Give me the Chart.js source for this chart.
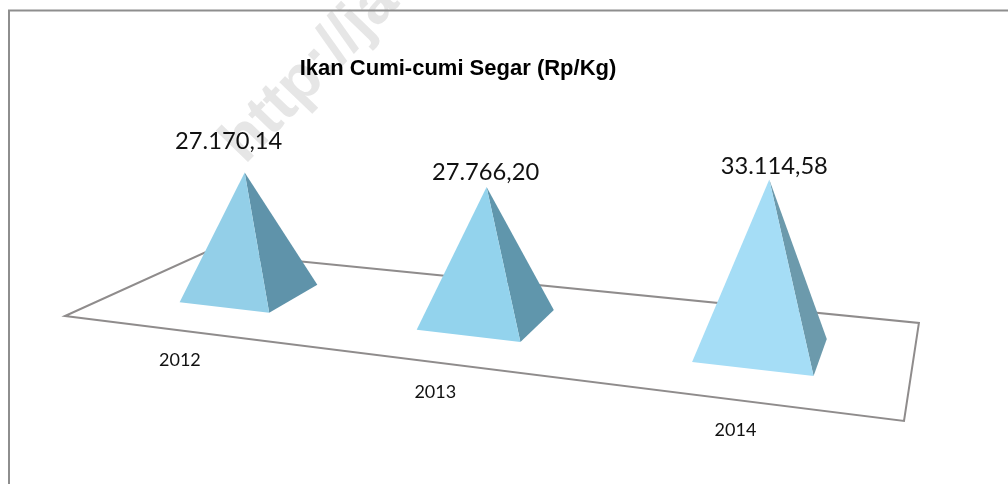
<!DOCTYPE html>
<html>
<head>
<meta charset="utf-8">
<title>Ikan Cumi-cumi Segar</title>
<script src="https://cdn.jsdelivr.net/npm/chart.js@4"></script>
<style>
html, body { margin: 0; padding: 0; background: #fff; }
canvas { display: block; }
</style>
</head>
<body>
<canvas id="chart" width="1008" height="484"></canvas>
<script>
// data
const categories = ['2012', '2013', '2014'];
const hargaIkan = [27170.14, 27766.20, 33114.58];
const judul = 'Ikan Cumi-cumi Segar (Rp/Kg)';
const watermark = 'http://ja';

// warna tiap piramida (sisi depan / sisi kanan)
const warnaDepan = ['#93cfe8', '#93d3ed', '#a5ddf6'];
const warnaSamping = ['#5f93aa', '#6096ac', '#6c9aac'];
// geser label nilai dari puncak piramida
const geserLabel = [[-16, -31], [-1, -15], [5, -13]];

// proyeksi lantai 3D: kotak satuan (u,v) ke kanvas
// sudut lantai: depan-kiri (65,316), depan-kanan (904,421), belakang-kanan (919,323), belakang-kiri (206,252)
function proyeksi(u, v) {
	const w = 1 - 0.2156 * u + 0.1813 * v;
	return {
		x: (644.1 * u + 178.3 * v + 65) / w,
		y: (14.2 * u - 18.3 * v + 316) / w,
		w: w
	};
}

function poligon(ctx, titik) {
	ctx.beginPath();
	titik.forEach((p, i) => i ? ctx.lineTo(p.x, p.y) : ctx.moveTo(p.x, p.y));
	ctx.closePath();
}

function formatNilai(n) {
	const parts = n.toFixed(2).split('.');
	return parts[0].replace(/\B(?=(\d{3})+$)/g, '.') + ',' + parts[1];
}

const piramidaPlugin = {
	id: 'piramida',
	beforeDraw(chart) {
		const ctx = chart.ctx;
		ctx.save();
		ctx.fillStyle = '#fff';
		ctx.fillRect(0, 0, chart.width, chart.height);
		// watermark
		ctx.translate(245, 165);
		ctx.rotate(-46 * Math.PI / 180);
		ctx.fillStyle = '#e6e6e6';
		ctx.font = 'bold 62px "Liberation Sans"';
		ctx.textBaseline = 'alphabetic';
		ctx.fillText(watermark, 0, 0);
		ctx.restore();
		// bingkai: hanya atas dan kiri
		ctx.save();
		ctx.strokeStyle = '#8e8e8e';
		ctx.lineWidth = 2;
		ctx.beginPath();
		ctx.moveTo(chart.width, 10.5);
		ctx.lineTo(9, 10.5);
		ctx.lineTo(9, chart.height);
		ctx.stroke();
		ctx.restore();
	},
	afterDatasetsDraw(chart) {
		const ctx = chart.ctx;
		const area = chart.chartArea;
		const bars = chart.getDatasetMeta(0).data;
		ctx.save();
		// lantai
		ctx.strokeStyle = '#8f8c8c';
		ctx.lineWidth = 2;
		ctx.lineJoin = 'miter';
		poligon(ctx, [proyeksi(0, 0), proyeksi(1, 0), proyeksi(1, 1), proyeksi(0, 1)]);
		ctx.stroke();
		bars.forEach((bar, i) => {
			const u = (bar.x - area.left) / area.width + 0.003;
			const du = bar.width / area.width / 2;
			const v = 0.5, dv = 0.2;
			const pusat = proyeksi(u, v);
			const tinggi = (bar.base - bar.y) / pusat.w;
			// garis vertikal sedikit menyebar (perspektif)
			const puncak = {
				x: pusat.x - 1.5 + (pusat.x - 430) * 0.000172 * tinggi,
				y: pusat.y - tinggi
			};
			const kiriDepan = proyeksi(u - du, v - dv);
			const kananDepan = proyeksi(u + du, v - dv);
			const kananBelakang = proyeksi(u + du, v + dv);
			ctx.fillStyle = warnaSamping[i];
			poligon(ctx, [kananDepan, kananBelakang, puncak]);
			ctx.fill();
			ctx.fillStyle = warnaDepan[i];
			poligon(ctx, [kiriDepan, kananDepan, puncak]);
			ctx.fill();
			// label nilai
			ctx.fillStyle = '#111';
			ctx.textAlign = 'center';
			ctx.textBaseline = 'middle';
			ctx.font = '23.7px Lato';
			ctx.fillText(formatNilai(hargaIkan[i]), puncak.x + geserLabel[i][0], puncak.y + geserLabel[i][1]);
			// label tahun, di bawah tepi depan lantai
			const tepi = proyeksi(u, 0);
			ctx.font = '18px Lato';
			ctx.fillText(chart.scales.x.getLabelForValue(i), tepi.x - 1, tepi.y + 30);
		});
		ctx.restore();
	}
};

new Chart(document.getElementById('chart'), {
	type: 'bar',
	data: {
		labels: categories,
		datasets: [{
			data: hargaIkan,
			backgroundColor: 'transparent',
			barPercentage: 0.395,
			categoryPercentage: 1
		}]
	},
	options: {
		responsive: false,
		animation: false,
		layout: {
			padding: { left: 10, right: 102, top: 56, bottom: 214 }
		},
		plugins: {
			legend: { display: false },
			tooltip: { enabled: false },
			title: {
				display: true,
				text: judul,
				color: '#000',
				font: { family: '"Liberation Sans"', weight: 'bold', size: 22 },
				padding: { top: 0, bottom: 0 }
			}
		},
		scales: {
			x: { display: false },
			y: { display: false, min: 0, max: 40000 }
		}
	},
	plugins: [piramidaPlugin]
});
</script>
</body>
</html>
